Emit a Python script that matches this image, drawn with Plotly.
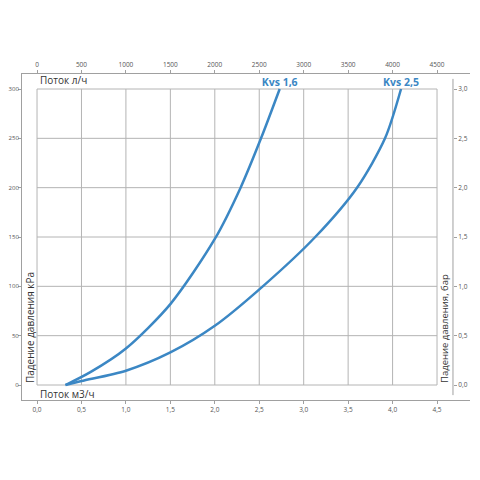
import plotly.graph_objects as go

# Расход, м3/ч и падение давления, кПа
q_kvs16 = [0.32, 0.6, 1.0, 1.5, 2.0, 2.29, 2.52, 2.73]
dp_kvs16 = [0, 13, 37, 82, 148, 200, 250, 300]

q_kvs25 = [0.32, 0.5, 1.0, 1.5, 2.0, 2.54, 3.13, 3.6, 3.915, 4.095]
dp_kvs25 = [0, 4, 14.5, 33, 60, 100, 150, 200, 250, 300]

labels = ['Kvs 1,6', 'Kvs 2,5']

q_ticks = [0.0, 0.5, 1.0, 1.5, 2.0, 2.5, 3.0, 3.5, 4.0, 4.5]
q_ticktext = ['0,0', '0,5', '1,0', '1,5', '2,0', '2,5', '3,0', '3,5', '4,0', '4,5']
lh_ticks = [0, 500, 1000, 1500, 2000, 2500, 3000, 3500, 4000, 4500]
kpa_ticks = [0, 50, 100, 150, 200, 250, 300]
bar_ticks = [0.0, 0.5, 1.0, 1.5, 2.0, 2.5, 3.0]
bar_ticktext = ['0,0', '0,5', '1,0', '1,5', '2,0', '2,5', '3,0']

BLUE = '#3b87c4'
GRID = '#b4b4b4'
AXIS = '#a0a0a0'
TICKFONT = dict(family='Open Sans', size=6.5, color='#555555')

fig = go.Figure()

for q, dp, name in [(q_kvs16, dp_kvs16, labels[0]), (q_kvs25, dp_kvs25, labels[1])]:
    fig.add_trace(go.Scatter(
        x=q, y=dp, mode='lines+text', line=dict(color=BLUE, width=2.5, shape='spline', smoothing=0.8),
        text=[''] * (len(q) - 1) + [name], textposition='top center',
        textfont=dict(family='Open Sans', size=10.5, color=BLUE, weight='bold'),
        cliponaxis=False, hoverinfo='skip', showlegend=False,
    ))

# невидимая кривая для верхней (л/ч) и правой (бар) осей
fig.add_trace(go.Scatter(
    x=[v * 1000 for v in q_kvs16], y=[v / 100 for v in dp_kvs16],
    xaxis='x2', yaxis='y2', mode='lines', opacity=0,
    hoverinfo='skip', showlegend=False,
))

# сетка только внутри диапазона данных
for q in q_ticks:
    fig.add_shape(type='line', xref='x', yref='y', x0=q, x1=q,
                  y0=kpa_ticks[0], y1=kpa_ticks[-1],
                  line=dict(color=GRID, width=1), layer='below')
for p in kpa_ticks:
    fig.add_shape(type='line', xref='x', yref='y', x0=q_ticks[0], x1=q_ticks[-1],
                  y0=p, y1=p, line=dict(color=GRID, width=1), layer='below')

# правая ось (линия)
fig.add_shape(type='line', xref='paper', yref='paper', x0=0.962, x1=0.962,
              y0=0.015, y1=0.985, line=dict(color=AXIS, width=1))

x_rng = [-0.169, 4.871]
y_rng = [-15.2, 315.2]

common = dict(showgrid=False, zeroline=False, automargin=False,
              ticks='outside', ticklen=3, tickcolor=AXIS, tickfont=TICKFONT)

fig.update_layout(
    width=464, height=464,
    margin=dict(l=14, r=2, t=66, b=72, autoexpand=False),
    paper_bgcolor='white', plot_bgcolor='white',
    xaxis=dict(range=x_rng, tickvals=q_ticks, ticktext=q_ticktext,
               showline=True, linecolor=AXIS, **common),
    xaxis2=dict(range=[v * 1000 for v in x_rng], tickvals=lh_ticks,
                overlaying='x', side='top', anchor='y',
                showline=True, linecolor=AXIS, **common),
    yaxis=dict(range=y_rng, tickvals=kpa_ticks,
               showline=True, linecolor=AXIS, ticklabelstandoff=-2,
               **{**common, 'tickfont': dict(family='Open Sans', size=6, color='#555555')}),
    yaxis2=dict(range=[v / 100 for v in y_rng], tickvals=bar_ticks, ticktext=bar_ticktext,
                overlaying='y', side='right', anchor='free', position=0.962,
                showline=False, **common),
    annotations=[
        dict(text='Поток л/ч', xref='x', yref='y', x=0, y=300, xanchor='left', yanchor='bottom',
             xshift=1, showarrow=False, font=dict(family='Open Sans', size=10, color='#333')),
        dict(text='Поток м3/ч', xref='x', yref='y', x=0, y=0, xanchor='left', yanchor='top',
             xshift=1, showarrow=False, font=dict(family='Open Sans', size=10, color='#333')),
        dict(text='Падение давления кРа', xref='x', yref='y', x=-0.085, y=0, textangle=-90,
             xanchor='center', yanchor='bottom', showarrow=False,
             font=dict(family='Open Sans', size=10, color='#333')),
        dict(text='Падение давления, бар', xref='x', yref='y', x=4.584, y=0, textangle=-90,
             xanchor='center', yanchor='bottom', showarrow=False,
             font=dict(family='Open Sans', size=9.5, color='#333')),
    ],
)

fig.write_html("out.html")
